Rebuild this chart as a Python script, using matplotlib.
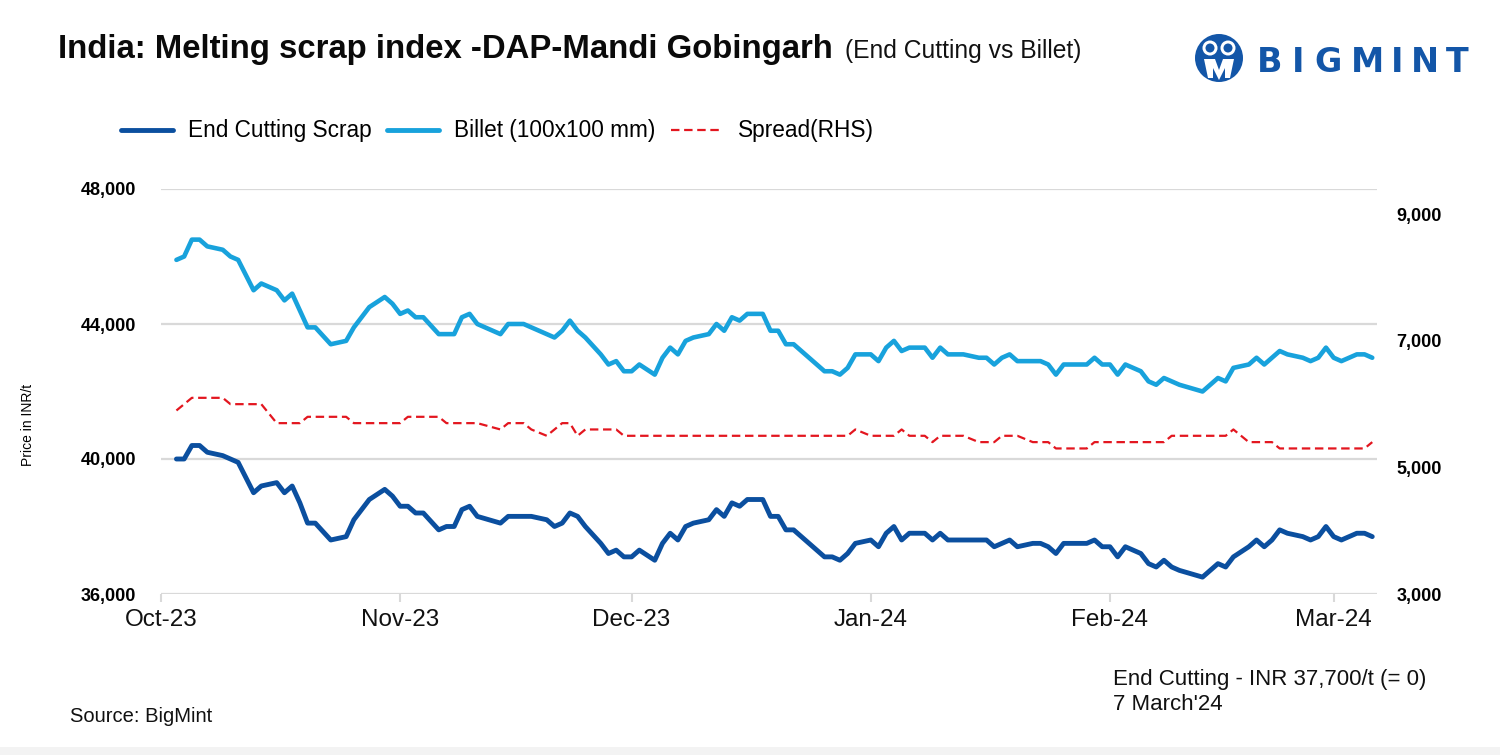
import matplotlib
matplotlib.use("Agg")
import matplotlib.pyplot as plt
import matplotlib.dates as mdates
from matplotlib.lines import Line2D
from matplotlib.patches import Circle, Rectangle, Polygon
from matplotlib.ticker import FuncFormatter, FixedLocator
import pandas as pd

# ---------------- data ----------------
dates = [
    "2023-10-03", "2023-10-04", "2023-10-05", "2023-10-06", "2023-10-07", "2023-10-09",
    "2023-10-10", "2023-10-11", "2023-10-13", "2023-10-14", "2023-10-16", "2023-10-17",
    "2023-10-18", "2023-10-19", "2023-10-20", "2023-10-21", "2023-10-23", "2023-10-25",
    "2023-10-26", "2023-10-28", "2023-10-30", "2023-10-31", "2023-11-01", "2023-11-02",
    "2023-11-03", "2023-11-04", "2023-11-06", "2023-11-07", "2023-11-08", "2023-11-09",
    "2023-11-10", "2023-11-11", "2023-11-14", "2023-11-15", "2023-11-17", "2023-11-18",
    "2023-11-20", "2023-11-21", "2023-11-22", "2023-11-23", "2023-11-24", "2023-11-25",
    "2023-11-27", "2023-11-28", "2023-11-29", "2023-11-30", "2023-12-01", "2023-12-02",
    "2023-12-04", "2023-12-05", "2023-12-06", "2023-12-07", "2023-12-08", "2023-12-09",
    "2023-12-11", "2023-12-12", "2023-12-13", "2023-12-14", "2023-12-15", "2023-12-16",
    "2023-12-18", "2023-12-19", "2023-12-20", "2023-12-21", "2023-12-22", "2023-12-26",
    "2023-12-27", "2023-12-28", "2023-12-29", "2023-12-30", "2024-01-01", "2024-01-02",
    "2024-01-03", "2024-01-04", "2024-01-05", "2024-01-06", "2024-01-08", "2024-01-09",
    "2024-01-10", "2024-01-11", "2024-01-13", "2024-01-15", "2024-01-16", "2024-01-17",
    "2024-01-18", "2024-01-19", "2024-01-20", "2024-01-22", "2024-01-23", "2024-01-24",
    "2024-01-25", "2024-01-26", "2024-01-27", "2024-01-29", "2024-01-30", "2024-01-31",
    "2024-02-01", "2024-02-02", "2024-02-03", "2024-02-05", "2024-02-06", "2024-02-07",
    "2024-02-08", "2024-02-09", "2024-02-10", "2024-02-13", "2024-02-15", "2024-02-16",
    "2024-02-17", "2024-02-19", "2024-02-20", "2024-02-21", "2024-02-22", "2024-02-23",
    "2024-02-24", "2024-02-26", "2024-02-27", "2024-02-28", "2024-02-29", "2024-03-01",
    "2024-03-02", "2024-03-04", "2024-03-05", "2024-03-06",
]

end_cutting_scrap = [
    40000, 40000, 40400, 40400, 40200, 40100,
    40000, 39900, 39000, 39200, 39300, 39000,
    39200, 38700, 38100, 38100, 37600, 37700,
    38200, 38800, 39100, 38900, 38600, 38600,
    38400, 38400, 37900, 38000, 38000, 38500,
    38600, 38300, 38100, 38300, 38300, 38300,
    38200, 38000, 38100, 38400, 38300, 38000,
    37500, 37200, 37300, 37100, 37100, 37300,
    37000, 37500, 37800, 37600, 38000, 38100,
    38200, 38500, 38300, 38700, 38600, 38800,
    38800, 38300, 38300, 37900, 37900, 37100,
    37100, 37000, 37200, 37500, 37600, 37400,
    37800, 38000, 37600, 37800, 37800, 37600,
    37800, 37600, 37600, 37600, 37600, 37400,
    37500, 37600, 37400, 37500, 37500, 37400,
    37200, 37500, 37500, 37500, 37600, 37400,
    37400, 37100, 37400, 37200, 36900, 36800,
    37000, 36800, 36700, 36500, 36900, 36800,
    37100, 37400, 37600, 37400, 37600, 37900,
    37800, 37700, 37600, 37700, 38000, 37700,
    37600, 37800, 37800, 37700,
]

billet_100x100 = [
    45900, 46000, 46500, 46500, 46300, 46200,
    46000, 45900, 45000, 45200, 45000, 44700,
    44900, 44400, 43900, 43900, 43400, 43500,
    43900, 44500, 44800, 44600, 44300, 44400,
    44200, 44200, 43700, 43700, 43700, 44200,
    44300, 44000, 43700, 44000, 44000, 43900,
    43700, 43600, 43800, 44100, 43800, 43600,
    43100, 42800, 42900, 42600, 42600, 42800,
    42500, 43000, 43300, 43100, 43500, 43600,
    43700, 44000, 43800, 44200, 44100, 44300,
    44300, 43800, 43800, 43400, 43400, 42600,
    42600, 42500, 42700, 43100, 43100, 42900,
    43300, 43500, 43200, 43300, 43300, 43000,
    43300, 43100, 43100, 43000, 43000, 42800,
    43000, 43100, 42900, 42900, 42900, 42800,
    42500, 42800, 42800, 42800, 43000, 42800,
    42800, 42500, 42800, 42600, 42300, 42200,
    42400, 42300, 42200, 42000, 42400, 42300,
    42700, 42800, 43000, 42800, 43000, 43200,
    43100, 43000, 42900, 43000, 43300, 43000,
    42900, 43100, 43100, 43000,
]

spread_rhs = [
    5900, 6000, 6100, 6100, 6100, 6100,
    6000, 6000, 6000, 6000, 5700, 5700,
    5700, 5700, 5800, 5800, 5800, 5800,
    5700, 5700, 5700, 5700, 5700, 5800,
    5800, 5800, 5800, 5700, 5700, 5700,
    5700, 5700, 5600, 5700, 5700, 5600,
    5500, 5600, 5700, 5700, 5500, 5600,
    5600, 5600, 5600, 5500, 5500, 5500,
    5500, 5500, 5500, 5500, 5500, 5500,
    5500, 5500, 5500, 5500, 5500, 5500,
    5500, 5500, 5500, 5500, 5500, 5500,
    5500, 5500, 5500, 5600, 5500, 5500,
    5500, 5500, 5600, 5500, 5500, 5400,
    5500, 5500, 5500, 5400, 5400, 5400,
    5500, 5500, 5500, 5400, 5400, 5400,
    5300, 5300, 5300, 5300, 5400, 5400,
    5400, 5400, 5400, 5400, 5400, 5400,
    5400, 5500, 5500, 5500, 5500, 5500,
    5600, 5400, 5400, 5400, 5400, 5300,
    5300, 5300, 5300, 5300, 5300, 5300,
    5300, 5300, 5300, 5400,
]

left_ticks = [36000, 40000, 44000, 48000]
right_ticks = [3000, 5000, 7000, 9000]
month_ticks = ["2023-10-01", "2023-11-01", "2023-12-01", "2024-01-01", "2024-02-01", "2024-03-01"]

series_names = ["End Cutting Scrap", "Billet (100x100 mm)", "Spread(RHS)"]
title_main = "India: Melting scrap index -DAP-Mandi Gobingarh"
title_sub = "(End Cutting vs Billet)"
y_label = "Price in INR/t"
note_line1 = "End Cutting - INR 37,700/t (= 0)"
note_line2 = "7 March'24"
source_text = "Source: BigMint"

# ---------------- styling ----------------
C_SCRAP = "#0b4f9f"
C_BILLET = "#18a2dc"
C_SPREAD = "#e3161f"
C_GRID = "#d9d9d9"
FONT = ["Liberation Sans", "DejaVu Sans"]
plt.rcParams["font.family"] = FONT

W, H = 1500, 755
fig = plt.figure(figsize=(W / 100, H / 100), dpi=100)
fig.patch.set_facecolor("white")

L, R, T, B = 161, 1377, 189, 594
ax = fig.add_axes([L / W, 1 - B / H, (R - L) / W, (B - T) / H])
ax2 = ax.twinx()

x = pd.to_datetime(dates)
ax.plot(x, billet_100x100, color=C_BILLET, lw=3.3, solid_joinstyle="round",
        solid_capstyle="round", zorder=3)
ax.plot(x, end_cutting_scrap, color=C_SCRAP, lw=3.5, solid_joinstyle="round",
        solid_capstyle="round", zorder=4)
ax2.plot(x, spread_rhs, color=C_SPREAD, lw=1.6, ls=(0, (3.8, 2.1)), zorder=3)

x0 = mdates.date2num(pd.Timestamp("2023-10-01"))
ax.set_xlim(x0, x0 + (R - L) / 7.715)
ax.set_ylim(left_ticks[0], left_ticks[-1])
ax2.set_ylim(3000, 9400)

for a in (ax, ax2):
    for s in a.spines.values():
        s.set_visible(False)
    a.set_facecolor("none")

ax.set_yticks(left_ticks)
ax.yaxis.set_major_formatter(FuncFormatter(lambda v, p: f"{int(v):,}"))
ax.tick_params(axis="y", length=0, pad=18, labelsize=13)
for lab in ax.get_yticklabels():
    lab.set_fontweight("bold")
ax.grid(axis="y", color=C_GRID, lw=1.6, zorder=0)
ax.set_axisbelow(True)

ax2.set_yticks(right_ticks)
ax2.yaxis.set_major_formatter(FuncFormatter(lambda v, p: f"{int(v):,}"))
ax2.tick_params(axis="y", length=0, pad=14, labelsize=13)
for lab in ax2.get_yticklabels():
    lab.set_fontweight("bold")

ax.xaxis.set_major_locator(FixedLocator(mdates.date2num(pd.to_datetime(month_ticks))))
ax.xaxis.set_major_formatter(mdates.DateFormatter("%b-%y"))
ax.tick_params(axis="x", length=6, width=1.5, color=C_GRID, pad=5, labelsize=17.5,
               labelcolor="#111111")

fig.text(28 / W, 1 - 425 / H, y_label, rotation=90, ha="center", va="center", fontsize=10)

# legend
handles = [
    Line2D([], [], color=C_SCRAP, lw=3.5, solid_capstyle="round"),
    Line2D([], [], color=C_BILLET, lw=3.5, solid_capstyle="round"),
    Line2D([], [], color=C_SPREAD, lw=1.6, ls=(0, (3.8, 2.1))),
]
fig.legend(handles, series_names, loc="center left", bbox_to_anchor=(121 / W, 1 - 131 / H),
           ncol=3, frameon=False, fontsize=16.3, handlelength=2.3, handletextpad=0.65,
           columnspacing=0.7, borderaxespad=0, borderpad=0)

# title
fig.text(58 / W, 1 - 58 / H, title_main, fontsize=23.7, fontweight="bold", ha="left",
         va="baseline", color="#0a0a0a")
fig.text(845 / W, 1 - 58 / H, title_sub, fontsize=17.7, ha="left", va="baseline",
         color="#111111")

# notes
fig.text(1113 / W, 1 - 679 / H, note_line1, fontsize=16, ha="left", va="center", color="#111111")
fig.text(1113 / W, 1 - 704 / H, note_line2, fontsize=16, ha="left", va="center", color="#111111")
fig.text(70 / W, 1 - 717 / H, source_text, fontsize=14.5, ha="left", va="center", color="#111111")

# overlay for logo and bottom strip
ov = fig.add_axes([0, 0, 1, 1], zorder=9)
ov.set_xlim(0, W)
ov.set_ylim(H, 0)
ov.axis("off")
ov.patch.set_alpha(0)
ov.add_patch(Rectangle((0, 747), W, 8, color="#f3f3f3", lw=0))

LOGO_BLUE = "#1356a8"
cx, cy, r = 1219, 58, 24
ov.add_patch(Circle((cx, cy), r, color=LOGO_BLUE, lw=0))
ov.add_patch(Circle((cx - 9, cy - 10), 7.5, color="white", lw=0))
ov.add_patch(Circle((cx + 9, cy - 10), 7.5, color="white", lw=0))
ov.add_patch(Circle((cx - 9, cy - 10), 4.5, color=LOGO_BLUE, lw=0))
ov.add_patch(Circle((cx + 9, cy - 10), 4.5, color=LOGO_BLUE, lw=0))
ov.add_patch(Polygon([(cx - 15, cy + 1), (cx - 4, cy + 1), (cx, cy + 12), (cx + 4, cy + 1),
                      (cx + 15, cy + 1), (cx + 11, cy + 20), (cx + 6, cy + 20), (cx + 6, cy + 10),
                      (cx, cy + 22), (cx - 6, cy + 10), (cx - 6, cy + 20), (cx - 11, cy + 20)],
                     closed=True, color="white", lw=0))
letters = list("BIGMINT")
centers = [1270, 1298, 1328, 1367, 1397, 1425, 1457]
for ch, xc in zip(letters, centers):
    ov.text(xc, 62, ch, fontsize=24, fontweight="bold", color=LOGO_BLUE, ha="center",
            va="center", family=["DejaVu Sans"])

fig.savefig("out.png", dpi=100, facecolor="white")
